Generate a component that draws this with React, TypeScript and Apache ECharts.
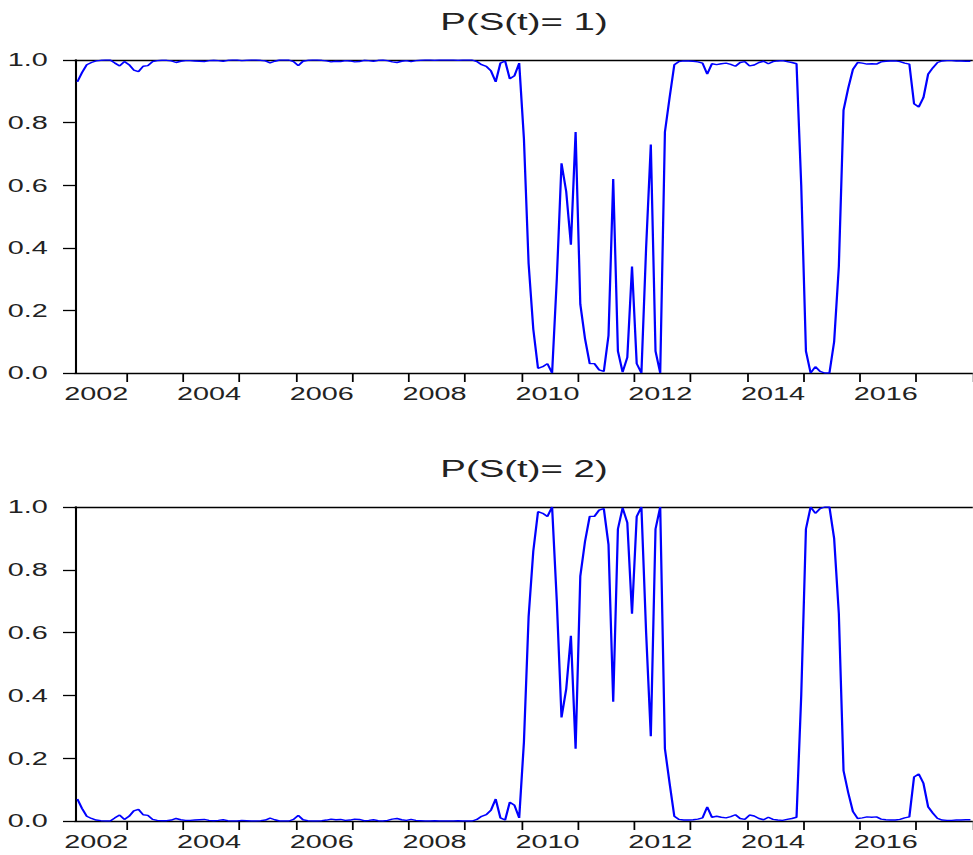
import React, { useEffect, useRef } from "react";
import * as echarts from "echarts";

// ---------- data ----------
const START_YEAR = 2002;
const START_MONTH = 2; // first observation: 2002M02
const N_OBS = 191; // through 2017M12

const months: string[] = [];
for (let k = 0; k < N_OBS; k++) {
  const m = START_MONTH - 1 + k;
  const y = START_YEAR + Math.floor(m / 12);
  const mm = (m % 12) + 1;
  months.push(`${y}-${String(mm).padStart(2, "0")}`);
}

const yearLabels = ["2002", "2004", "2006", "2008", "2010", "2012", "2014", "2016"];
const titles = ["P(S(t)= 1)", "P(S(t)= 2)"];

const probRegime1 = [
  0.93, 0.96, 0.985, 0.992, 0.997, 0.999, 1.0, 1.0, 0.99, 0.981,
  0.995, 0.985, 0.968, 0.963, 0.98, 0.982, 0.995, 0.998, 0.999, 0.999,
  0.997, 0.992, 0.996, 0.998, 0.998, 0.997, 0.996, 0.995, 0.998, 0.999,
  0.998, 0.996, 0.999, 1.0, 1.0, 0.998, 0.999, 1.0, 1.0, 0.999,
  0.997, 0.991, 0.996, 1.0, 1.0, 1.0, 0.995, 0.982, 0.996, 0.999,
  1.0, 1.0, 0.999, 0.997, 0.994, 0.996, 0.995, 0.998, 0.997, 0.994,
  0.995, 0.999, 0.998, 0.996, 0.999, 1.0, 0.998, 0.994, 0.992, 0.996,
  0.998, 0.995, 0.998, 0.999, 1.0, 1.0, 0.999, 1.0, 1.0, 1.0,
  1.0, 0.999, 1.0, 1.0, 1.0, 0.995, 0.985, 0.98, 0.965, 0.93,
  0.99, 0.997, 0.94, 0.95, 0.99, 0.75, 0.35, 0.14, 0.015, 0.02,
  0.03, 0.0, 0.3, 0.67, 0.58, 0.41, 0.77, 0.22, 0.11, 0.03,
  0.03, 0.01, 0.005, 0.12, 0.62, 0.07, 0.003, 0.05, 0.34, 0.03,
  0.0, 0.4, 0.73, 0.07, 0.0, 0.77, 0.88, 0.985, 0.995, 0.997,
  0.997, 0.996, 0.994, 0.99, 0.955, 0.988, 0.985, 0.988, 0.99, 0.986,
  0.98, 0.992, 0.995, 0.981, 0.984, 0.992, 0.996, 0.988, 0.995, 0.997,
  0.998, 0.995, 0.992, 0.988, 0.6, 0.07, 0.0, 0.02, 0.005, 0.0,
  0.0, 0.1, 0.34, 0.84, 0.91, 0.97, 0.992, 0.99, 0.987, 0.988,
  0.987, 0.994, 0.996, 0.997, 0.997, 0.995, 0.99, 0.987, 0.86, 0.85,
  0.88, 0.955, 0.975, 0.992, 0.997, 0.998, 0.998, 0.997, 0.997, 0.996, 0.996,
];

const probRegime2 = [
  0.07, 0.04, 0.015, 0.008, 0.003, 0.001, 0.0, 0.0, 0.01, 0.019,
  0.005, 0.015, 0.032, 0.037, 0.02, 0.018, 0.005, 0.002, 0.001, 0.001,
  0.003, 0.008, 0.004, 0.002, 0.002, 0.003, 0.004, 0.005, 0.002, 0.001,
  0.002, 0.004, 0.001, 0.0, 0.0, 0.002, 0.001, 0.0, 0.0, 0.001,
  0.003, 0.009, 0.004, 0.0, 0.0, 0.0, 0.005, 0.018, 0.004, 0.001,
  0.0, 0.0, 0.001, 0.003, 0.006, 0.004, 0.005, 0.002, 0.003, 0.006,
  0.005, 0.001, 0.002, 0.004, 0.001, 0.0, 0.002, 0.006, 0.008, 0.004,
  0.002, 0.005, 0.002, 0.001, 0.0, 0.0, 0.001, 0.0, 0.0, 0.0,
  0.0, 0.001, 0.0, 0.0, 0.0, 0.005, 0.015, 0.02, 0.035, 0.07,
  0.01, 0.003, 0.06, 0.05, 0.01, 0.25, 0.65, 0.86, 0.985, 0.98,
  0.97, 1.0, 0.7, 0.33, 0.42, 0.59, 0.23, 0.78, 0.89, 0.97,
  0.97, 0.99, 0.995, 0.88, 0.38, 0.93, 0.997, 0.95, 0.66, 0.97,
  1.0, 0.6, 0.27, 0.93, 1.0, 0.23, 0.12, 0.015, 0.005, 0.003,
  0.003, 0.004, 0.006, 0.01, 0.045, 0.012, 0.015, 0.012, 0.01, 0.014,
  0.02, 0.008, 0.005, 0.019, 0.016, 0.008, 0.004, 0.012, 0.005, 0.003,
  0.002, 0.005, 0.008, 0.012, 0.4, 0.93, 1.0, 0.98, 0.995, 1.0,
  1.0, 0.9, 0.66, 0.16, 0.09, 0.03, 0.008, 0.01, 0.013, 0.012,
  0.013, 0.006, 0.004, 0.003, 0.003, 0.005, 0.01, 0.013, 0.14, 0.15,
  0.12, 0.045, 0.025, 0.008, 0.003, 0.002, 0.002, 0.003, 0.003, 0.004, 0.004,
];

// ---------- layout ----------
const SX = 1.6; // horizontal stretch of the whole picture
const PAGE_W = 973;
const PAGE_H = 855;
const INNER_W = PAGE_W / SX;
const FONT = '"Liberation Sans", Arial, Helvetica, sans-serif';
const TEXT_COLOR = "#222";
const PLOT_LEFT = 75 / SX;
const PLOT_CENTER = (75 + 973) / 2 / SX;

const panels = [
  { top: 60, height: 313, titleTop: 10 },
  { top: 507, height: 314, titleTop: 457 },
];

export default function App() {
  const ref = useRef<HTMLDivElement>(null);

  useEffect(() => {
    if (!ref.current) return;
    document.body.style.overflow = "hidden";
    const chart = echarts.init(ref.current, undefined, { renderer: "svg" });

    const grid: any[] = [];
    const xAxis: any[] = [];
    const yAxis: any[] = [];
    const title: any[] = [];
    const series: any[] = [];
    const data = [probRegime1, probRegime2];

    panels.forEach((p, g) => {
      grid.push({ left: PLOT_LEFT, right: 0, top: p.top, height: p.height });
      title.push({
        text: titles[g],
        left: PLOT_CENTER,
        top: p.titleTop,
        padding: 0,
        textAlign: "center",
        textStyle: { fontSize: 24, fontWeight: "normal", color: TEXT_COLOR, fontFamily: FONT },
      });
      xAxis.push({
        type: "category",
        gridIndex: g,
        data: months,
        boundaryGap: true,
        position: "bottom",
        axisLine: { show: true, onZero: false, lineStyle: { color: "#000", width: 1.3 } },
        axisTick: {
          show: true,
          interval: (_i: number, v: string) => v.endsWith("-01"),
          length: 9,
          lineStyle: { color: "#000", width: 1.1 },
        },
        axisLabel: {
          interval: (_i: number, v: string) => v.endsWith("-06") && yearLabels.includes(v.slice(0, 4)),
          formatter: (v: string) => v.slice(0, 4),
          margin: 12,
          fontSize: 18,
          color: TEXT_COLOR,
          fontFamily: FONT,
        },
        splitLine: { show: false },
      });
      xAxis.push({
        type: "category",
        gridIndex: g,
        data: months,
        boundaryGap: true,
        position: "top",
        axisLine: { show: true, onZero: false, lineStyle: { color: "#000", width: 1.3 } },
        axisTick: { show: false },
        axisLabel: { show: false },
        splitLine: { show: false },
      });
      yAxis.push({
        type: "value",
        gridIndex: g,
        min: 0,
        max: 1,
        interval: 0.2,
        axisLine: { show: true, lineStyle: { color: "#000", width: 1.3 } },
        axisTick: { show: true, length: 12 / SX, lineStyle: { color: "#000", width: 1.3 } },
        axisLabel: {
          formatter: (v: number) => v.toFixed(1),
          margin: 17,
          fontSize: 18,
          color: TEXT_COLOR,
          fontFamily: FONT,
        },
        splitLine: { show: false },
      });
      series.push({
        type: "line",
        xAxisIndex: g * 2,
        yAxisIndex: g,
        data: data[g],
        showSymbol: false,
        symbol: "none",
        lineStyle: { color: "#0000ff", width: 1.4 },
        itemStyle: { color: "#0000ff" },
        silent: true,
      });
    });

    chart.setOption({
      animation: false,
      backgroundColor: "#ffffff",
      title,
      grid,
      xAxis,
      yAxis,
      series,
    });

    return () => {
      chart.dispose();
    };
  }, []);

  return (
    <div
      ref={ref}
      style={{
        position: "absolute",
        left: 0,
        top: 0,
        width: `${INNER_W}px`,
        height: `${PAGE_H}px`,
        transform: `scaleX(${SX})`,
        transformOrigin: "0 0",
        background: "#fff",
      }}
    />
  );
}
